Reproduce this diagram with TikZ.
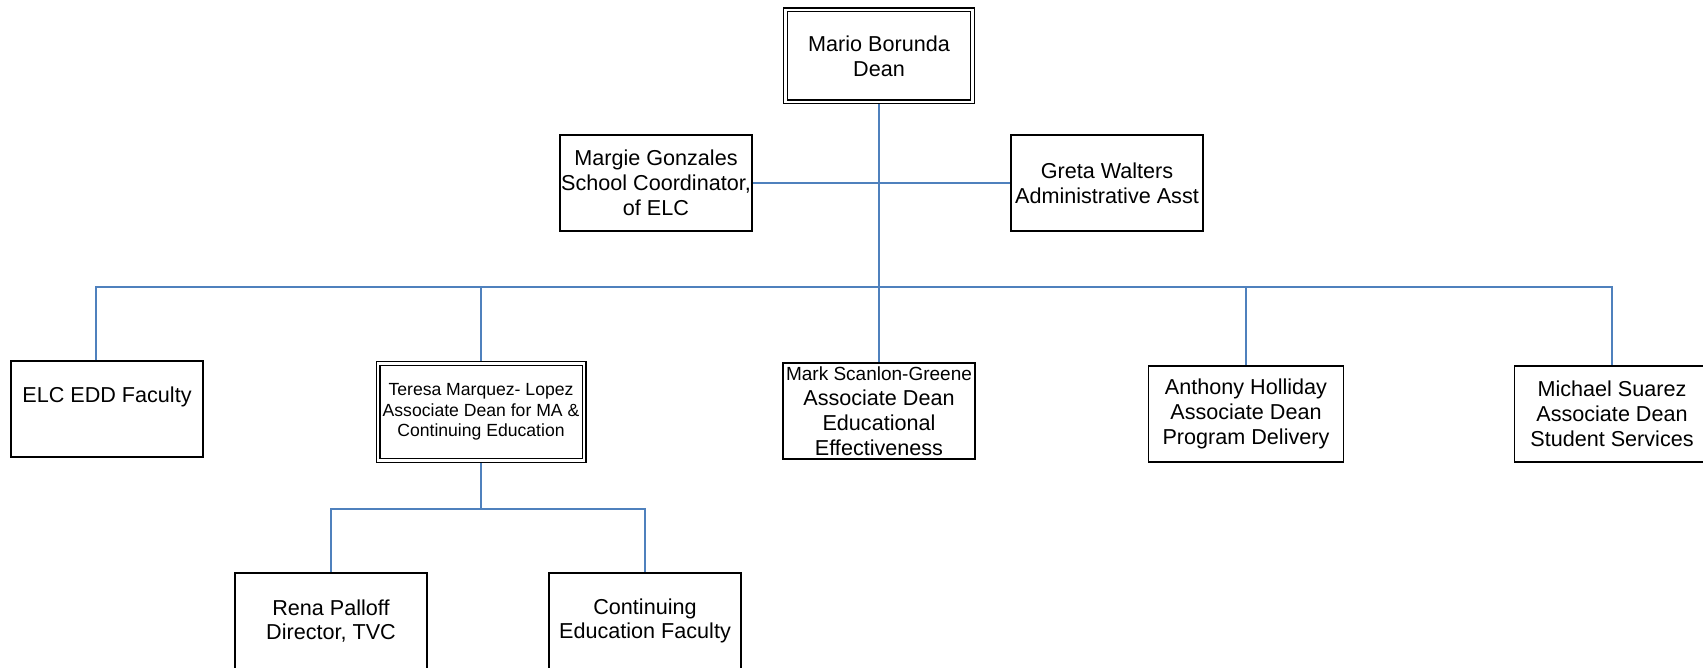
\documentclass[tikz,border=0pt]{standalone}
\usepackage{fontspec}
\setmainfont{Liberation Sans}
\definecolor{linkblue}{RGB}{79,129,189}
\tikzset{
    person/.style={draw, line width=0.8pt, fill=white, align=center, inner sep=0.5pt,
        minimum width=96pt, minimum height=48pt, font=\fontsize{10.8}{12.4}\selectfont},
    headbox/.style={person, double, line width=0.6pt, double distance=1.3pt, outer sep=1.25pt},
    link/.style={draw=linkblue, line width=0.75pt}
}
\begin{document}
\begin{tikzpicture}[x=0.5pt, y=-0.5pt]
    \useasboundingbox (0,0) rectangle (1703,668);
    \clip (0,0) rectangle (1703,668);
    \node[headbox, minimum width=93.5pt, minimum height=46pt] (dean) at (879,56) {Mario Borunda\\Dean};
    \node[person] (margie) at (656,183) {Margie Gonzales\\School Coordinator,\\of ELC};
    \node[person] (greta) at (1107,183) {Greta Walters\\Administrative Asst};
    \node[person, text depth=14pt] (elc) at (107,409) {ELC EDD Faculty};
    \node[headbox, minimum width=103pt, minimum height=48.5pt,
        font=\fontsize{8.8}{10.3}\selectfont] (teresa) at (481,412)
        {Teresa Marquez- Lopez\\Associate Dean for MA \&\\Continuing Education};
    \node[person, font=\fontsize{10.8}{12.5}\selectfont] (mark) at (879,411)
        {{\fontsize{9.5}{11}\selectfont Mark Scanlon-Greene}\\Associate Dean\\Educational\\Effectiveness};
    \node[person, minimum width=97.5pt] (anthony) at (1246,414) {Anthony Holliday\\Associate Dean\\Program Delivery};
    \node[person, minimum width=97.5pt] (michael) at (1612,414) {Michael Suarez\\Associate Dean\\Student Services};
    \node[person] (rena) at (331,621) {Rena Palloff\\Director, TVC};
    \node[person] (cont) at (645,621) {Continuing\\Education Faculty};
    \coordinate (bus) at (879,287);
    \coordinate (split) at (481,509);
    \draw[link] (dean.south) -- (mark.north);
    \draw[link] (margie.east) -- (greta.west);
    \draw[link] ([xshift=-5.5pt]elc.north) |- (bus) -| (michael.north);
    \draw[link] (teresa.north) -- (teresa.north |- bus);
    \draw[link] (anthony.north) -- (anthony.north |- bus);
    \draw[link] (teresa.south) -- (split);
    \draw[link] (rena.north) |- (split) -| (cont.north);
\end{tikzpicture}
\end{document}
